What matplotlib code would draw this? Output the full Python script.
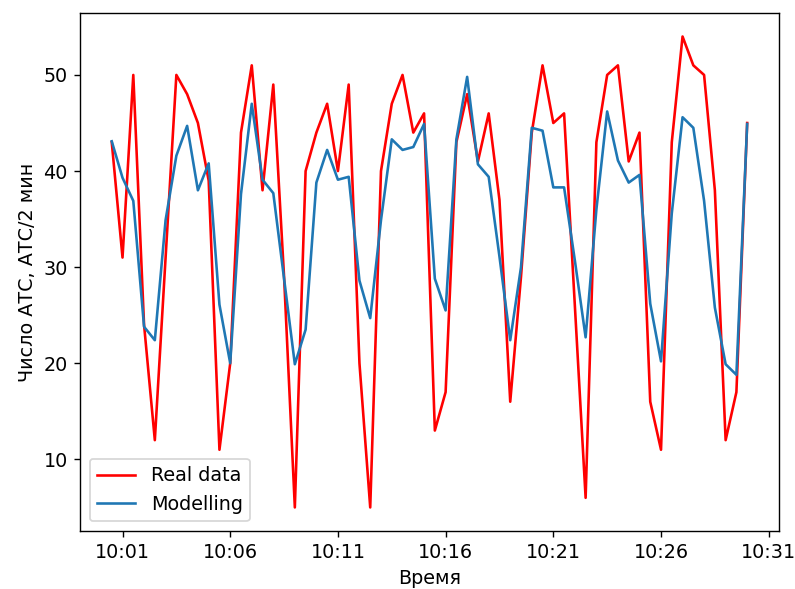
import matplotlib
matplotlib.use("Agg")
import matplotlib.pyplot as plt
import matplotlib.dates as mdates
import pandas as pd

plt.rcParams["font.size"] = 11

# ── Данные: отсчёты каждые 30 с, 10:00:30 … 10:30:00 ──
vremya = pd.date_range("2020-01-01 10:00:30", periods=60, freq="30s")

real_data = [43, 31, 50, 24, 12, 31, 50, 48, 45, 39,
             11, 20, 44, 51, 38, 49, 29, 5, 40, 44,
             47, 40, 49, 20, 5, 40, 47, 50, 44, 46,
             13, 17, 43, 48, 41, 46, 37, 16, 29, 44,
             51, 45, 46, 26, 6, 43, 50, 51, 41, 44,
             16, 11, 43, 54, 51, 50, 38, 12, 17, 45]

modelling = [43.1, 39.3, 36.9, 23.8, 22.4, 34.9, 41.6, 44.7, 38.0, 40.8,
             26.1, 20.0, 37.6, 47.0, 39.1, 37.7, 28.8, 19.9, 23.5, 38.8,
             42.2, 39.1, 39.4, 28.6, 24.7, 34.9, 43.3, 42.2, 42.5, 44.9,
             28.8, 25.5, 43.3, 49.8, 40.7, 39.4, 31.1, 22.4, 30.0, 44.5,
             44.2, 38.3, 38.3, 30.7, 22.7, 36.0, 46.2, 41.1, 38.8, 39.6,
             26.2, 20.2, 35.6, 45.6, 44.5, 36.9, 25.8, 19.9, 18.8, 44.9]

fig = plt.figure(figsize=(6.36, 4.712), dpi=125)
ax = fig.add_axes([0.1006, 0.0985, 0.8792, 0.8795])

ax.plot(vremya, real_data, color="red", label="Real data")
ax.plot(vremya, modelling, color="tab:blue", label="Modelling")

ax.xaxis.set_major_locator(mdates.MinuteLocator(byminute=range(1, 60, 5)))
ax.xaxis.set_major_formatter(mdates.DateFormatter("%H:%M"))

ax.set_xlabel("Время")
ax.set_ylabel("Число АТС, АТС/2 мин")
ax.legend(loc="lower left")

fig.savefig("out.png", dpi=125)
